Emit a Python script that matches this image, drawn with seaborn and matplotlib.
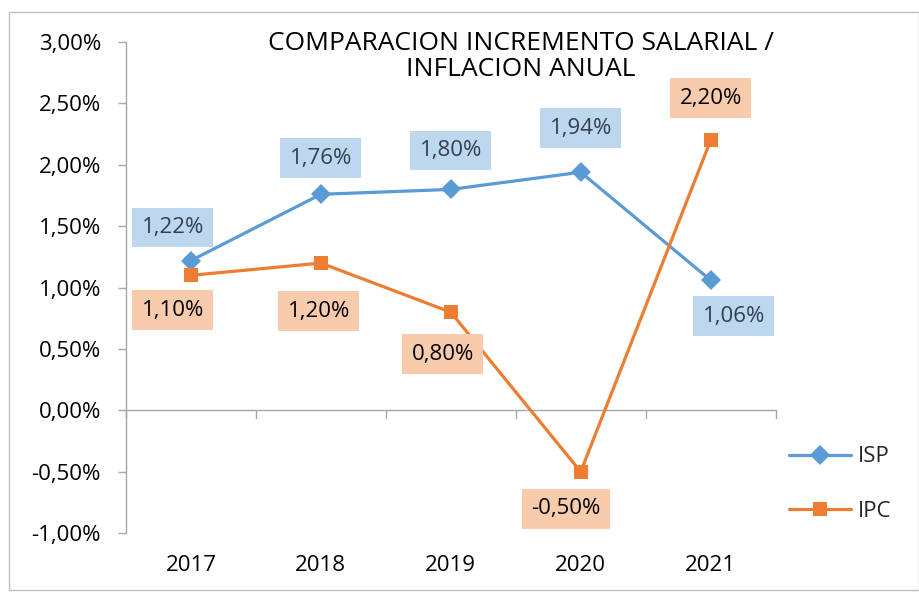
import pandas as pd
import matplotlib.pyplot as plt
import seaborn as sns
from matplotlib.patches import Rectangle
from matplotlib.ticker import FuncFormatter

# data
years = ['2017', '2018', '2019', '2020', '2021']
isp = [1.22, 1.76, 1.80, 1.94, 1.06]
ipc = [1.10, 1.20, 0.80, -0.50, 2.20]

# label placement, in pixels from the point (dx, dy up)
isp_off = [(-18, 33), (0, 36), (0, 39), (0, 44), (23, -36)]
ipc_off = [(-18, -35), (-2, -48), (-8, -42), (-15, -37), (0, 42)]

df = pd.DataFrame({'Año': years * 2,
                   'Valor': isp + ipc,
                   'Serie': ['ISP'] * 5 + ['IPC'] * 5})

sns.set_style('white')
plt.rcParams['font.family'] = ['Open Sans', 'DejaVu Sans']

blue = '#5B9BD5'
orange = '#ED7D31'
FS = 16

fig = plt.figure(figsize=(9.19, 5.93), dpi=100)
ax = fig.add_axes([0.137, 0.101, 0.707, 0.828])

sns.lineplot(data=df, x='Año', y='Valor', hue='Serie', style='Serie',
             palette={'ISP': blue, 'IPC': orange},
             markers={'ISP': 'D', 'IPC': 's'}, dashes=False,
             markersize=10, linewidth=2.3, markeredgewidth=0,
             sort=False, ax=ax)

ax.set_xlim(-0.5, 4.5)
ax.set_ylim(-1.0, 3.0)
ax.set_yticks([-1 + 0.5 * i for i in range(9)])
ax.yaxis.set_major_formatter(FuncFormatter(
    lambda v, p: ('%.2f%%' % v).replace('.', ',')))
ax.set_xlabel('')
ax.set_ylabel('')

for s in ['top', 'right', 'bottom']:
    ax.spines[s].set_visible(False)
ax.spines['left'].set_color('#A6A6A6')
ax.spines['left'].set_linewidth(1)
ax.axhline(0, color='#A6A6A6', lw=1, zorder=1)
# category boundary ticks on the zero line
for b in [-0.5 + i for i in range(6)]:
    ax.plot([b, b], [0, -0.06], color='#A6A6A6', lw=1, clip_on=False, zorder=1)

ax.tick_params(axis='y', length=6, width=1, color='#A6A6A6', labelsize=FS,
               labelcolor='black', pad=12, left=True)
ax.tick_params(axis='x', length=0, labelsize=FS, labelcolor='black', pad=16)

# data labels
def put_labels(vals, offs, fill, color):
    for i, (v, (dx, dy)) in enumerate(zip(vals, offs)):
        ax.annotate(('%.2f%%' % v).replace('.', ','), (i, v),
                    xytext=(dx * 0.72, dy * 0.72), textcoords='offset points',
                    ha='center', va='center', fontsize=FS, color=color,
                    bbox=dict(boxstyle='square,pad=0.42', fc=fill, ec='none'),
                    zorder=5)

put_labels(isp, isp_off, '#BDD7EE', '#333F50')
put_labels(ipc, ipc_off, '#F8CBAD', 'black')

fig.text(0.567, 0.905, 'COMPARACION INCREMENTO SALARIAL /\nINFLACION ANUAL',
         ha='center', va='center', fontsize=19, color='black', linespacing=1.05)

leg = ax.legend(loc='center left', bbox_to_anchor=(0.99, 0.10), frameon=False,
                fontsize=FS, handlelength=2.8, labelspacing=1.5,
                handletextpad=0.3, markerscale=1.0)

fig.patches.append(Rectangle((0.01, 0.005), 0.99, 0.975, transform=fig.transFigure,
                             fill=False, ec='#BFBFBF', lw=1))

fig.savefig('out.png', dpi=100)
